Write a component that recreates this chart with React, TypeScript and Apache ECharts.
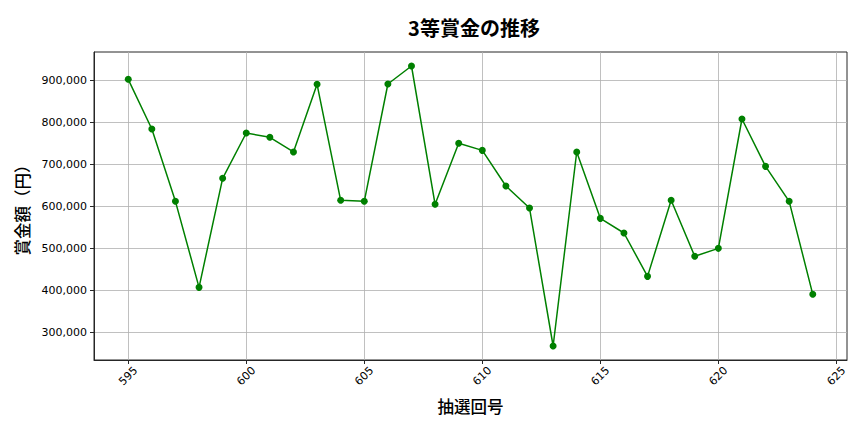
import React, { useEffect, useRef } from "react";
import * as echarts from "echarts";

const draws: number[] = [
  595, 596, 597, 598, 599, 600, 601, 602, 603, 604,
  605, 606, 607, 608, 609, 610, 611, 612, 613, 614,
  615, 616, 617, 618, 619, 620, 621, 622, 623, 624,
];
const prizes: number[] = [
  902400, 784100, 611900, 407100, 666700, 774600, 764300, 729400, 890500, 614300,
  611900, 891300, 934100, 604800, 750000, 733300, 648400, 596000, 267500, 729400,
  571400, 536500, 433300, 614300, 481000, 500000, 807900, 695200, 611900, 390500,
];
const xTicks: number[] = [595, 600, 605, 610, 615, 620, 625];
const yTicks: number[] = [300000, 400000, 500000, 600000, 700000, 800000, 900000];

const titleText = "3等賞金の推移";
const xName = "抽選回号";
const yName = "賞金額（円）";

const CJK = "'Noto Sans CJK JP', 'Noto Sans', sans-serif";
const NUM = "'DejaVu Sans', sans-serif";

export default function App() {
  const ref = useRef<HTMLDivElement>(null);
  useEffect(() => {
    if (!ref.current) return;
    const chart = echarts.init(ref.current, null, { renderer: "svg" });
    const xMinD = Math.min(...draws), xMaxD = Math.max(...draws);
    const xPad = (xMaxD - xMinD) * 0.05;
    const yMinD = Math.min(...prizes), yMaxD = Math.max(...prizes);
    const yPad = (yMaxD - yMinD) * 0.05;
    chart.setOption({
      animation: false,
      backgroundColor: "#ffffff",
      title: {
        text: titleText,
        left: 469,
        top: 12,
        textAlign: "center",
        textStyle: { fontFamily: CJK, fontSize: 20, fontWeight: "bold", color: "#000" },
      },
      grid: {
        left: 94,
        right: 17,
        top: 52,
        bottom: 72,
        show: true,
        borderColor: "#262626",
        borderWidth: 1,
        backgroundColor: "transparent",
      },
      xAxis: {
        type: "value",
        min: xMinD - xPad,
        max: xMaxD + xPad,
        name: xName,
        nameLocation: "middle",
        nameGap: 38,
        nameTextStyle: { fontFamily: CJK, fontSize: 16.5, fontWeight: 500, color: "#000" },
        axisLine: { show: true, onZero: false, lineStyle: { color: "#262626", width: 1 } },
        axisTick: { show: true, length: 4, customValues: xTicks, lineStyle: { color: "#262626" } },
        axisLabel: {
          customValues: xTicks,
          rotate: 45,
          align: "center",
          verticalAlign: "middle",
          margin: 16,
          fontFamily: NUM,
          fontSize: 11,
          color: "#000",
        },
        splitLine: { show: true, lineStyle: { color: "#b0b0b0", width: 0.8 } },
      },
      yAxis: {
        type: "value",
        min: yMinD - yPad,
        max: yMaxD + yPad,
        name: yName,
        nameLocation: "middle",
        nameGap: 64,
        nameTextStyle: { fontFamily: CJK, fontSize: 16.5, fontWeight: 500, color: "#000" },
        axisLine: { show: true, onZero: false, lineStyle: { color: "#262626", width: 1 } },
        axisTick: { show: true, length: 4, customValues: yTicks, lineStyle: { color: "#262626" } },
        axisLabel: {
          customValues: yTicks,
          margin: 7,
          fontFamily: NUM,
          fontSize: 11,
          color: "#000",
          formatter: (v: number) => v.toLocaleString("en-US"),
        },
        splitLine: { show: true, lineStyle: { color: "#b0b0b0", width: 0.8 } },
      },
      series: [
        {
          type: "line",
          data: draws.map((d, i) => [d, prizes[i]]),
          symbol: "circle",
          symbolSize: 7,
          showSymbol: true,
          lineStyle: { color: "#008000", width: 1.5 },
          itemStyle: { color: "#008000" },
        },
      ],
    });
    return () => chart.dispose();
  }, []);
  return <div ref={ref} style={{ width: 864, height: 432, position: "absolute", left: 0, top: 0 }} />;
}
